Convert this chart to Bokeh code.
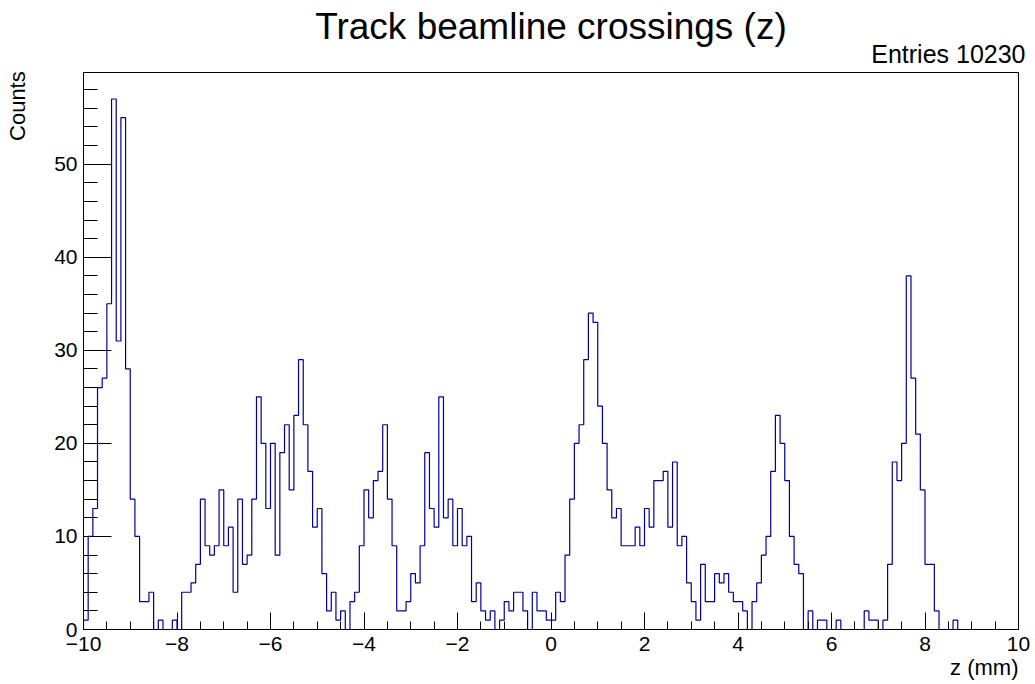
import numpy as np
from bokeh.plotting import figure
from bokeh.models import Title, SingleIntervalTicker, Range1d
from bokeh.embed import file_html
from bokeh.resources import INLINE

# ---------------- data ----------------
title_text = "Track beamline crossings (z)"
x_label = "z (mm)"
y_label = "Counts"
entries_text = "Entries 10230"

x_min, x_max = -10.0, 10.0
n_bins = 200

# bin contents (0.1 mm bins from -10 to 10)
counts = [
    1, 10, 13, 26, 27, 35, 57, 31, 55, 28,      # -10.0 .. -9.1
    14, 10, 3, 3, 4, 0, 1, 0, 0, 1,             # -9.0 .. -8.1
    0, 4, 4, 5, 7, 14, 9, 8, 9, 15,             # -8.0 .. -7.1
    9, 11, 4, 14, 7, 8, 14, 25, 20, 13,         # -7.0 .. -6.1
    20, 8, 19, 22, 15, 23, 29, 22, 17, 11,      # -6.0 .. -5.1
    13, 6, 2, 4, 1, 2, 0, 3, 4, 9,              # -5.0 .. -4.1
    15, 12, 16, 17, 22, 14, 9, 2, 2, 3,         # -4.0 .. -3.1
    6, 5, 9, 19, 13, 11, 25, 12, 14, 9,         # -3.0 .. -2.1
    13, 9, 10, 3, 5, 2, 1, 2, 0, 1,             # -2.0 .. -1.1
    3, 2, 4, 4, 2, 0, 4, 2, 2, 1,               # -1.0 .. -0.1
    1, 4, 3, 8, 14, 20, 22, 29, 34, 33,         # 0.0 .. 0.9
    24, 20, 15, 12, 13, 9, 9, 9, 11, 9,         # 1.0 .. 1.9
    13, 11, 16, 16, 17, 11, 18, 9, 10, 5,       # 2.0 .. 2.9
    3, 1, 7, 3, 3, 6, 5, 6, 4, 3,               # 3.0 .. 3.9
    3, 2, 0, 3, 5, 8, 10, 17, 23, 20,           # 4.0 .. 4.9
    16, 10, 7, 6, 0, 2, 0, 1, 1, 0,             # 5.0 .. 5.9
    0, 1, 0, 0, 0, 0, 0, 2, 1, 1,               # 6.0 .. 6.9
    0, 1, 7, 18, 16, 20, 38, 27, 21, 15,        # 7.0 .. 7.9
    7, 7, 2, 0, 0, 0, 1, 0, 0, 0,               # 8.0 .. 8.9
    0, 0, 0, 0, 0, 0, 0, 0, 0, 0,               # 9.0 .. 9.9
]

x_ticks = [-10, -8, -6, -4, -2, 0, 2, 4, 6, 8, 10]
x_tick_labels = ["\u221210", "\u22128", "\u22126", "\u22124", "\u22122", "0", "2", "4", "6", "8", "10"]
y_ticks = [0, 10, 20, 30, 40, 50]
y_tick_labels = ["0", "10", "20", "30", "40", "50"]

# ---------------- layout ----------------
W, H = 1035, 684
L, R, T, B = 83, 1018, 72, 629
y_max = max(counts) * 1.05
FONT = "Liberation Sans"

p = figure(width=W, height=H, output_backend="svg", toolbar_location=None,
           x_range=Range1d(x_min, x_max), y_range=Range1d(0, y_max),
           min_border_left=L, min_border_right=W - R,
           min_border_top=T, min_border_bottom=H - B)
p.background_fill_color = "white"
p.border_fill_color = "white"
p.outline_line_color = "black"
p.outline_line_width = 1
p.xgrid.visible = False
p.ygrid.visible = False

# histogram outline from the bin edges and contents
edges = np.linspace(x_min, x_max, n_bins + 1)
cnt = np.array(counts, dtype=float)
xs = np.concatenate([[edges[0]], np.repeat(edges, 2)[1:-1], [edges[-1]]])
ys = np.concatenate([[0.0], np.repeat(cnt, 2), [0.0]])
p.line(xs, ys, line_color="#000099", line_width=1.2)

# axes
xa = p.xaxis[0]
xa.ticker = SingleIntervalTicker(interval=2, num_minor_ticks=4)
xa.major_label_overrides = {t: s for t, s in zip(x_ticks, x_tick_labels)}
xa.major_tick_in = 17
xa.major_tick_out = 0
xa.minor_tick_in = 8
xa.minor_tick_out = 0
xa.major_label_standoff = 7
ya = p.yaxis[0]
ya.ticker = SingleIntervalTicker(interval=10, num_minor_ticks=5)
ya.major_label_overrides = {t: s for t, s in zip(y_ticks, y_tick_labels)}
ya.major_tick_in = 28
ya.major_tick_out = 0
ya.minor_tick_in = 14
ya.minor_tick_out = 0
ya.major_label_standoff = 6
for ax in (xa, ya):
    ax.axis_line_color = "black"
    ax.major_tick_line_color = "black"
    ax.minor_tick_line_color = "black"
    ax.major_label_text_font = FONT
    ax.major_label_text_font_size = "21px"
    ax.major_label_text_color = "black"

# y-axis title at the top end of the axis (ROOT style); the label is centred on
# the axis end, so pad it with non-breaking spaces to push the word below the end
if "axis_label_align" in ya.properties():
    ya.axis_label = y_label + "\u00a0" * 11
    ya.axis_label_align = "end"
    ya.axis_label_standoff = 21
    ya.axis_label_text_font = FONT
    ya.axis_label_text_font_size = "22px"
    ya.axis_label_text_font_style = "normal"
    ya.axis_label_text_color = "black"
else:
    p.add_layout(Title(text=y_label, align="right", standoff=22,
                       text_font=FONT, text_font_size="22px", text_font_style="normal",
                       text_color="black"), "left")

# texts around the frame
t_entries = Title(text=entries_text, align="right", offset=-7, standoff=10,
                  text_font=FONT, text_font_size="25px", text_font_style="normal",
                  text_color="black")
t_main = Title(text=title_text, align="center", standoff=-29,
               text_font=FONT, text_font_size="37px", text_font_style="normal",
               text_color="black")
p.add_layout(t_entries, "above")
p.add_layout(t_main, "above")
p.add_layout(Title(text=x_label, align="right", standoff=-2,
                   text_font=FONT, text_font_size="22px", text_font_style="normal",
                   text_color="black"), "below")

open("out.html", "w").write(file_html(p, INLINE))
